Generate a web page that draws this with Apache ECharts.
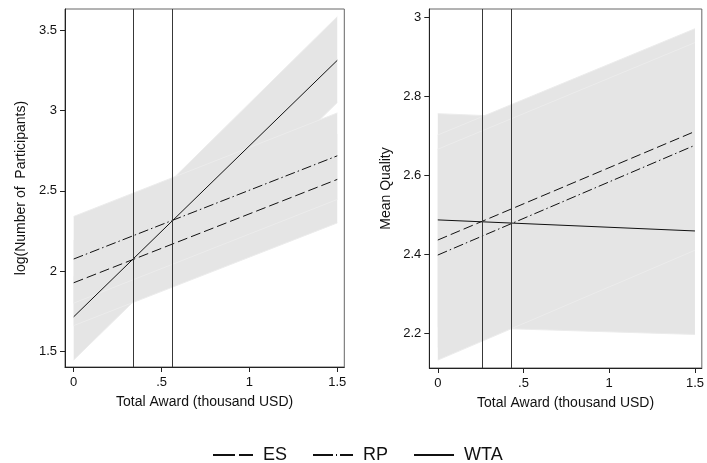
<!DOCTYPE html>
<html>
<head>
<meta charset="utf-8">
<script src="https://cdn.jsdelivr.net/npm/echarts@6/dist/echarts.min.js"></script>
<style>
  html, body { margin: 0; padding: 0; background: #fff; }
  #chart { width: 707px; height: 463px; }
</style>
</head>
<body>
<div id="chart"></div>
<script>
// Award levels (thousand USD) at which the fitted lines are evaluated
const awardX = [0, 1.5];

// Left panel: log(Number of Participants) — fitted values and 95% CI
const partES    = [1.927, 2.571];
const partESLo  = [1.660, 2.300];
const partESHi  = [2.190, 2.850];
const partRP    = [2.075, 2.718];
const partRPLo  = [1.800, 2.446];
const partRPHi  = [2.340, 2.985];
const partWTA   = [1.715, 3.313];
const partWTALo = [1.446, 3.050];
const partWTAHi = [1.965, 3.585];
const partCross = [0.335, 0.56];

// Right panel: Mean Quality — fitted values and 95% CI
const qualES    = [2.436, 2.711];
const qualESLo  = [2.166, 2.446];
const qualESHi  = [2.702, 2.971];
const qualRP    = [2.398, 2.676];
const qualRPLo  = [2.132, 2.410];
const qualRPHi  = [2.666, 2.936];
const qualWTA   = [2.487, 2.459];
const qualWTALo = [2.217, 2.197];
const qualWTAHi = [2.756, 2.729];
const qualCross = [0.256, 0.435];

// Tick labels
const xTickVals = [0, 0.5, 1, 1.5];
const xTickText = ['0', '.5', '1', '1.5'];
const yLeftTickVals = [1.5, 2, 2.5, 3, 3.5];
const yLeftTickText = ['1.5', '2', '2.5', '3', '3.5'];
const yRightTickVals = [2.2, 2.4, 2.6, 2.8, 3];
const yRightTickText = ['2.2', '2.4', '2.6', '2.8', '3'];

const FONT = 'Liberation Sans, Arial, Helvetica, sans-serif';
const INK = '#111';
const BAND = '#e5e5e5';
const BAND_EDGE = '#ececec';
const DASH_ES = [10, 4];
const DASH_RP = [10, 3, 1.5, 3];

function pairs(vals) { return awardX.map((x, i) => [x, vals[i]]); }

// Confidence band: filled polygon, then its two outline lines one layer up;
// each later band sits above the previous band's outlines.
function band(id, g, lo, hi, layer) {
  const rows = awardX.map((x, i) => [x, lo[i], hi[i]]);
  const area = {
    type: 'custom', name: id + '_band', xAxisIndex: g, yAxisIndex: g,
    silent: true, z: layer * 2,
    encode: { x: 0, y: [1, 2] },
    data: rows,
    renderItem: function (params, api) {
      if (params.dataIndex !== 0) return null;
      const pts = [];
      rows.forEach(r => pts.push(api.coord([r[0], r[1]])));
      rows.slice().reverse().forEach(r => pts.push(api.coord([r[0], r[2]])));
      return { type: 'polygon', shape: { points: pts }, style: { fill: BAND } };
    }
  };
  const outlines = [lo, hi].map((v, k) => ({
    type: 'line', name: id + '_edge' + k, xAxisIndex: g, yAxisIndex: g,
    data: pairs(v), symbol: 'none', silent: true, z: layer * 2 + 1,
    lineStyle: { color: BAND_EDGE, width: 1 }
  }));
  return [area].concat(outlines);
}

function fit(name, g, vals, dash, cross) {
  const s = {
    type: 'line', name: name, xAxisIndex: g, yAxisIndex: g,
    data: pairs(vals), symbol: 'none', z: 10,
    lineStyle: { color: INK, width: 1, type: dash }
  };
  if (cross) {
    s.markLine = {
      silent: true, symbol: 'none', label: { show: false }, z: 12,
      lineStyle: { color: '#383838', width: 1, type: 'solid' },
      data: cross.map(v => ({ xAxis: v }))
    };
  }
  return s;
}

function xAxisFor(g) {
  return {
    gridIndex: g, type: 'value', min: -0.0495, max: 1.54,
    axisLine: { show: true, onZero: false, lineStyle: { color: '#222', width: 1 } },
    axisTick: { show: true, length: 5, customValues: xTickVals, lineStyle: { color: '#222' } },
    axisLabel: { customValues: xTickVals, margin: 9, fontSize: 13, color: INK, fontFamily: FONT,
                 formatter: v => xTickText[xTickVals.indexOf(v)] },
    splitLine: { show: false },
    name: 'Total Award (thousand USD)', nameLocation: 'middle', nameGap: 28,
    nameTextStyle: { fontSize: 14, color: INK, fontFamily: FONT }
  };
}

function yAxisFor(g, min, max, vals, text, name, gap) {
  return {
    gridIndex: g, type: 'value', min: min, max: max,
    axisLine: { show: true, onZero: false, lineStyle: { color: '#222', width: 1 } },
    axisTick: { show: true, length: 5, customValues: vals, lineStyle: { color: '#222' } },
    axisLabel: { customValues: vals, margin: 8, fontSize: 13, color: INK, fontFamily: FONT,
                 formatter: v => text[vals.indexOf(v)] },
    splitLine: { show: false },
    name: name, nameLocation: 'middle', nameGap: gap,
    nameTextStyle: { fontSize: 14, color: INK, fontFamily: FONT }
  };
}

const chart = echarts.init(document.getElementById('chart'), null, { renderer: 'canvas' });

chart.setOption({
  animation: false,
  backgroundColor: '#fff',
  grid: [
    { left: 65, top: 9, width: 279.3, height: 358, show: true, borderColor: '#666', borderWidth: 1, backgroundColor: '#fff' },
    { left: 429.3, top: 9, width: 279.3, height: 359, show: true, borderColor: '#666', borderWidth: 1, backgroundColor: '#fff' }
  ],
  xAxis: [xAxisFor(0), xAxisFor(1)],
  yAxis: [
    yAxisFor(0, 1.402, 3.633, yLeftTickVals, yLeftTickText, 'log(Number of  Participants)', 37),
    yAxisFor(1, 2.112, 3.021, yRightTickVals, yRightTickText, 'Mean Quality', 36)
  ],
  legend: {
    top: 441, left: 207, itemWidth: 40, itemHeight: 12, itemGap: 25,
    itemStyle: { color: 'transparent', borderWidth: 0 },
    textStyle: { fontSize: 18, color: INK, fontFamily: FONT, padding: [0, 0, 0, 5] },
    data: [
      { name: 'ES', lineStyle: { type: [22, 4] } },
      { name: 'RP', lineStyle: { type: [20, 3, 1, 3] } },
      { name: 'WTA' }
    ],
    selectedMode: false
  },
  series: [].concat(
    band('pWTA', 0, partWTALo, partWTAHi, 1),
    band('pES', 0, partESLo, partESHi, 2),
    band('pRP', 0, partRPLo, partRPHi, 3),
    [
      fit('ES', 0, partES, DASH_ES),
      fit('RP', 0, partRP, DASH_RP),
      fit('WTA', 0, partWTA, 'solid', partCross)
    ],
    band('qWTA', 1, qualWTALo, qualWTAHi, 1),
    band('qES', 1, qualESLo, qualESHi, 2),
    band('qRP', 1, qualRPLo, qualRPHi, 3),
    [
      fit('ES', 1, qualES, DASH_ES),
      fit('RP', 1, qualRP, DASH_RP),
      fit('WTA', 1, qualWTA, 'solid', qualCross)
    ]
  )
});
</script>
</body>
</html>
